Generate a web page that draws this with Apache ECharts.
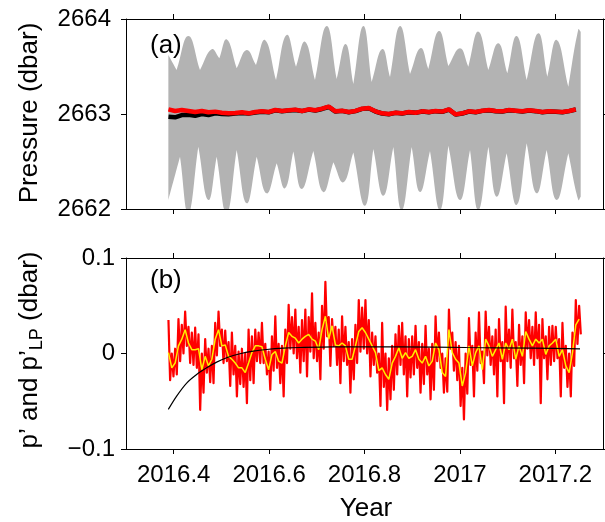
<!DOCTYPE html>
<html><head><meta charset="utf-8">
<script src="https://cdn.jsdelivr.net/npm/echarts@6/dist/echarts.min.js"></script>
<style>html,body{margin:0;padding:0;background:#fff}#c{width:605px;height:522px}</style>
</head><body><div id="c"></div>
<script>
// ---- data ----
const xTicks = [2016.4, 2016.6, 2016.8, 2017.0, 2017.2];
const topYTicks = [2662, 2663, 2664];
const botYTicks = [-0.1, 0, 0.1];

// tidal pressure envelope (grey band), panel (a)
// upper edge: start, then alternating trough / spring-tide crest, end
const tideUpperT = [2016.3888,2016.4062,2016.4307,2016.4551,2016.4796,2016.4957,2016.5110,2016.5320,2016.5530,2016.5725,2016.5914,2016.6145,2016.6368,2016.6564,2016.6753,2016.6962,2016.7207,2016.7417,2016.7605,2016.7766,2016.7976,2016.8150,2016.8374,2016.8535,2016.8744,2016.8954,2016.9178,2016.9338,2016.9562,2016.9758,2017.0002,2017.0177,2017.0386,2017.0596,2017.0806,2017.0994,2017.1190,2017.1400,2017.1644,2017.1833,2017.2029,2017.2273,2017.2483,2017.2532];
const tideUpper = [2663.621,2663.463,2663.821,2663.463,2663.681,2663.586,2663.786,2663.481,2663.674,2663.516,2663.779,2663.358,2663.832,2663.498,2663.761,2663.358,2663.926,2663.368,2663.737,2663.316,2663.926,2663.337,2663.684,2663.389,2663.926,2663.421,2663.695,2663.474,2663.874,2663.505,2663.691,2663.498,2663.867,2663.463,2663.744,2663.428,2663.821,2663.358,2663.849,2663.393,2663.779,2663.288,2663.891,2663.867];
// lower edge: start, then alternating cusp / spring-tide low, end
const tideLowerT = [2016.3888,2016.4132,2016.4307,2016.4516,2016.4726,2016.4901,2016.5110,2016.5320,2016.5530,2016.5739,2016.5949,2016.6159,2016.6333,2016.6508,2016.6683,2016.6927,2016.7137,2016.7347,2016.7556,2016.7766,2016.8010,2016.8185,2016.8395,2016.8604,2016.8779,2016.8989,2016.9164,2016.9373,2016.9583,2016.9758,2017.0002,2017.0212,2017.0386,2017.0596,2017.0771,2017.0980,2017.1190,2017.1400,2017.1609,2017.1819,2017.2029,2017.2273,2017.2483,2017.2532];
const tideLower = [2662.095,2662.551,2661.954,2662.656,2662.095,2662.551,2661.954,2662.621,2662.060,2662.551,2662.165,2662.481,2662.218,2662.604,2662.211,2662.611,2662.179,2662.491,2662.281,2662.596,2662.035,2662.632,2662.140,2662.653,2661.989,2662.653,2662.179,2662.611,2661.989,2662.667,2662.095,2662.621,2661.989,2662.656,2662.130,2662.586,2662.042,2662.691,2662.165,2662.621,2662.095,2662.586,2662.095,2662.130];

// de-tided pressure (red) and raw mean pressure (black), panel (a)
const topT0 = 2016.389, topDt = 0.014;
const pDetided = [2663.049,2663.032,2663.042,2663.032,2663.021,2663.032,2663.018,2663.025,2663.014,2663.007,2663.011,2663.018,2663.007,2663.021,2663.028,2663.021,2663.042,2663.032,2663.039,2663.046,2663.032,2663.049,2663.039,2663.056,2663.077,2663.028,2663.035,2663.021,2663.032,2663.056,2663.063,2663.028,2663.007,2663.000,2663.014,2663.007,2663.021,2663.014,2663.028,2663.021,2663.032,2663.025,2663.049,2662.996,2663.007,2663.028,2663.021,2663.035,2663.042,2663.032,2663.028,2663.042,2663.035,2663.028,2663.039,2663.032,2663.021,2663.028,2663.025,2663.021,2663.032,2663.049];
const pRaw = [2662.972,2662.965,2662.989,2662.993,2662.982,2663.000,2662.990,2663.007,2663.000,2662.998,2663.004,2663.011,2663.004,2663.016,2663.024,2663.018,2663.039,2663.030,2663.036,2663.043,2663.030,2663.046,2663.037,2663.053,2663.074,2663.026,2663.033,2663.019,2663.030,2663.054,2663.060,2663.026,2663.005,2662.998,2663.012,2663.005,2663.019,2663.012,2663.026,2663.019,2663.030,2663.023,2663.047,2662.994,2663.005,2663.026,2663.019,2663.033,2663.040,2663.030,2663.026,2663.040,2663.033,2663.026,2663.037,2663.030,2663.019,2663.026,2663.023,2663.019,2663.030,2663.047];

// p' (red), panel (b)
const pT0 = 2016.389, pDt = 0.0035;
const pPrime = [0.035,-0.028, 0.000,-0.024, 0.005,-0.022, 0.036,-0.008, 0.030,0.000, 0.044,0.008, 0.028,-0.010, 0.022,-0.012,
0.027,-0.015, 0.020,-0.059, 0.000,-0.041, 0.015,-0.020, 0.005,-0.030, 0.008,-0.031, 0.032,-0.002, 0.044,0.008,
0.025,-0.010, 0.024,-0.008, 0.012,-0.034, 0.022,-0.022, 0.008,-0.045, 0.002,-0.032, 0.005,-0.035, 0.000,-0.052,
0.025,-0.028, 0.018,-0.031, 0.025,-0.008, 0.022,-0.010, 0.032,-0.010, 0.010,-0.022, 0.002,-0.038, 0.018,-0.018,
0.039,-0.015, 0.010,-0.031, 0.008,-0.045, 0.025,-0.010, 0.051,0.005, 0.038,0.000, 0.046,-0.005, 0.028,-0.020,
0.035,-0.008, 0.046,-0.024, 0.038,0.002, 0.063,-0.005, 0.032,-0.008, 0.022,-0.027, 0.050,0.005, 0.075,0.018,
0.038,-0.013, 0.036,0.008, 0.028,-0.012, 0.025,-0.031, 0.039,-0.008, 0.028,-0.012, 0.012,-0.041, 0.015,-0.027,
0.030,-0.010, 0.056,0.002, 0.048,0.005, 0.056,0.000, 0.035,-0.024, 0.022,-0.012, 0.018,-0.020, 0.000,-0.055,
0.032,-0.035, 0.000,-0.059, -0.005,-0.048, 0.008,-0.038, 0.020,-0.022, 0.029,-0.012, 0.032,-0.022, 0.018,-0.045,
0.015,-0.025, 0.018,-0.022, 0.029,-0.015, 0.012,-0.041, 0.010,-0.032, 0.029,-0.022, 0.005,-0.048, 0.010,-0.038,
0.039,-0.008, 0.022,-0.015, 0.000,-0.041, -0.005,-0.040, 0.046,0.005, 0.022,-0.018, 0.012,-0.028, 0.008,-0.055,
-0.015,-0.069, 0.000,-0.042, 0.037,-0.012, 0.008,-0.045, 0.022,-0.018, 0.043,-0.010, 0.002,-0.031, 0.044,-0.002,
0.028,-0.012, 0.018,-0.022, 0.025,-0.045, 0.036,-0.008, 0.012,-0.052, 0.049,-0.008, 0.025,-0.015, 0.046,-0.005,
0.012,-0.034, 0.030,-0.012, 0.018,-0.031, 0.043,0.005, 0.035,-0.005, 0.028,-0.012, 0.043,-0.005, 0.030,-0.052,
0.036,-0.005, 0.018,-0.027, 0.028,-0.012, 0.029,-0.008, 0.028,-0.005, 0.015,-0.045, 0.032,-0.015, 0.008,-0.035,
0.000,-0.045, 0.022,-0.013, 0.056,0.010, 0.050,0.020];

// p'_LP (yellow), panel (b)
const lpT0 = 2016.389, lpDt = 0.007;
const pLP = [0.001,-0.015,-0.010,0.008,0.015,0.025,0.011,0.004,0.004,0.005,
-0.017,-0.003,-0.013,-0.006,0.015,0.025,0.008,0.009,-0.003,-0.006,
-0.010,-0.015,-0.015,-0.020,-0.010,0.001,0.008,0.008,0.007,-0.006,
-0.017,-0.001,0.002,-0.008,-0.010,0.008,0.022,0.018,0.016,0.011,
0.015,0.018,0.020,0.015,0.013,0.004,0.025,0.039,0.015,0.029,
0.009,0.008,0.011,0.008,-0.006,-0.006,0.008,0.023,0.027,0.022,
0.015,0.008,0.001,-0.018,-0.015,-0.022,-0.027,-0.010,-0.003,0.006,
-0.005,0.001,-0.005,-0.003,0.004,-0.006,-0.010,-0.003,-0.013,-0.008,
0.011,0.004,-0.020,-0.024,0.025,0.001,-0.006,-0.010,-0.034,-0.020,
0.008,-0.013,0.001,0.008,-0.017,0.015,0.008,-0.003,0.004,0.011,
-0.006,0.011,0.004,0.015,-0.006,0.008,-0.003,0.023,0.015,0.008,
0.015,0.011,0.015,-0.001,0.008,0.011,0.015,-0.003,0.004,-0.013,
-0.020,0.001,0.030,0.036];

// exponential drift fit (black), panel (b)
const fitT = [2016.3887,2016.4062,2016.4272,2016.4481,2016.4691,2016.4901,2016.5110,2016.5390,2016.5669,2016.5949,2016.6298,2016.6648,2016.7347,2016.8744,2017.0142,2017.1540,2017.2518];
const fitV = [-0.0585,-0.0446,-0.031,-0.022,-0.015,-0.009,-0.0045,-0.0003,0.0024,0.0042,0.0056,0.0063,0.007,0.007,0.0063,0.0056,0.0049];

// ---- build ----
const zip = (ts, vs) => ts.map((t, i) => [t, vs[i]]);
const reg = (t0, dt, vs) => vs.map((v, i) => [t0 + i * dt, v]);
const FONT = 'Liberation Sans, Arial, sans-serif';
const black = '#000';

function xAx(gi, pos, labels) {
  return {
    type: 'value', gridIndex: gi, position: pos, min: 2016.3, max: 2017.3,
    axisLine: {show: true, onZero: false, lineStyle: {color: black, width: 1}},
    axisTick: {show: true, inside: false, length: 5, customValues: xTicks, lineStyle: {color: black}},
    axisLabel: labels ? {show: true, customValues: xTicks, fontSize: 24, fontFamily: FONT, color: black, margin: 14,
      formatter: v => String(Math.round(v * 10) / 10)} : {show: false},
    splitLine: {show: false}
  };
}
function yAx(gi, pos, min, max, ticks, labels, margin, fmt) {
  return {
    type: 'value', gridIndex: gi, position: pos, min: min, max: max,
    axisLine: {show: true, onZero: false, lineStyle: {color: black, width: 1}},
    axisTick: {show: true, inside: false, length: 5, customValues: ticks, lineStyle: {color: black}},
    axisLabel: labels ? {show: true, customValues: ticks, fontSize: 24, fontFamily: FONT, color: black, margin: margin, formatter: fmt} : {show: false},
    splitLine: {show: false}
  };
}

const chart = echarts.init(document.getElementById('c'), null, {renderer: 'canvas'});
chart.setOption({
  animation: false,
  backgroundColor: '#fff',
  grid: [
    {left: 126, right: 2, top: 19, height: 190},
    {left: 126, right: 2, top: 258, height: 191}
  ],
  xAxis: [xAx(0, 'bottom', false), xAx(0, 'top', false), xAx(1, 'bottom', true), xAx(1, 'top', false)],
  yAxis: [
    yAx(0, 'left', 2662, 2664, topYTicks, true, 15, v => String(Math.round(v))),
    yAx(0, 'right', 2662, 2664, topYTicks, false),
    yAx(1, 'left', -0.1, 0.1, botYTicks, true, 11, v => { const r = Math.round(v * 10) / 10; return r < 0 ? '\u2212' + Math.abs(r) : String(r); }),
    yAx(1, 'right', -0.1, 0.1, botYTicks, false)
  ],
  series: [
    {
      type: 'custom', xAxisIndex: 0, yAxisIndex: 0, clip: true, silent: true,
      data: [[2016.8, 2663]],
      renderItem: function (params, api) {
        const pts = [];
        const add = (t, v, sharp) => { const p = api.coord([t, v]); pts.push(p); if (sharp) pts.push(p.slice()); };
        const nu = tideUpperT.length, nl = tideLowerT.length;
        for (let i = 0; i < nu; i++) add(tideUpperT[i], tideUpper[i], i === 0 || i === nu - 1 || i % 2 === 1);
        for (let i = nl - 1; i >= 0; i--) add(tideLowerT[i], tideLower[i], i === 0 || i === nl - 1 || i % 2 === 1);
        return {type: 'polygon', shape: {points: pts, smooth: 0.45}, style: {fill: '#b3b3b3', stroke: null}};
      }
    },
    {type: 'line', xAxisIndex: 0, yAxisIndex: 0, data: reg(topT0, topDt, pRaw), showSymbol: false,
      lineStyle: {color: '#000', width: 4.5}, z: 3},
    {type: 'line', xAxisIndex: 0, yAxisIndex: 0, data: reg(topT0, topDt, pDetided), showSymbol: false,
      lineStyle: {color: '#ff0000', width: 4.5}, z: 4},
    {type: 'line', xAxisIndex: 2, yAxisIndex: 2, data: reg(pT0, pDt, pPrime), showSymbol: false,
      lineStyle: {color: '#ff0000', width: 2.2, join: 'round'}, z: 3},
    {type: 'line', xAxisIndex: 2, yAxisIndex: 2, data: reg(lpT0, lpDt, pLP), showSymbol: false,
      lineStyle: {color: '#ffee00', width: 1.5}, z: 4},
    {type: 'line', xAxisIndex: 2, yAxisIndex: 2, data: zip(fitT, fitV), showSymbol: false, smooth: 0.3,
      lineStyle: {color: '#000', width: 1.2}, z: 5}
  ],
  graphic: [
    {type: 'text', x: 150, y: 46, style: {text: '(a)', font: '26px ' + FONT, fill: black, align: 'left', verticalAlign: 'middle'}},
    {type: 'text', x: 150, y: 281, style: {text: '(b)', font: '26px ' + FONT, fill: black, align: 'left', verticalAlign: 'middle'}},
    {type: 'text', x: 30, y: 113, rotation: Math.PI / 2,
      style: {text: 'Pressure (dbar)', font: '26px ' + FONT, fill: black, align: 'center', verticalAlign: 'middle'}},
    {type: 'text', x: 30, y: 350, rotation: Math.PI / 2,
      style: {text: 'p\u2019 and p\u2019{sub|LP} (dbar)', fontSize: 26, fontFamily: FONT, fill: black, align: 'center', verticalAlign: 'middle',
        rich: {sub: {fontSize: 18, fontFamily: FONT, fill: black, padding: [14, 0, 0, 0]}}}},
    {type: 'text', x: 366, y: 509, style: {text: 'Year', font: '26px ' + FONT, fill: black, align: 'center', verticalAlign: 'middle'}}
  ]
});
</script></body></html>
